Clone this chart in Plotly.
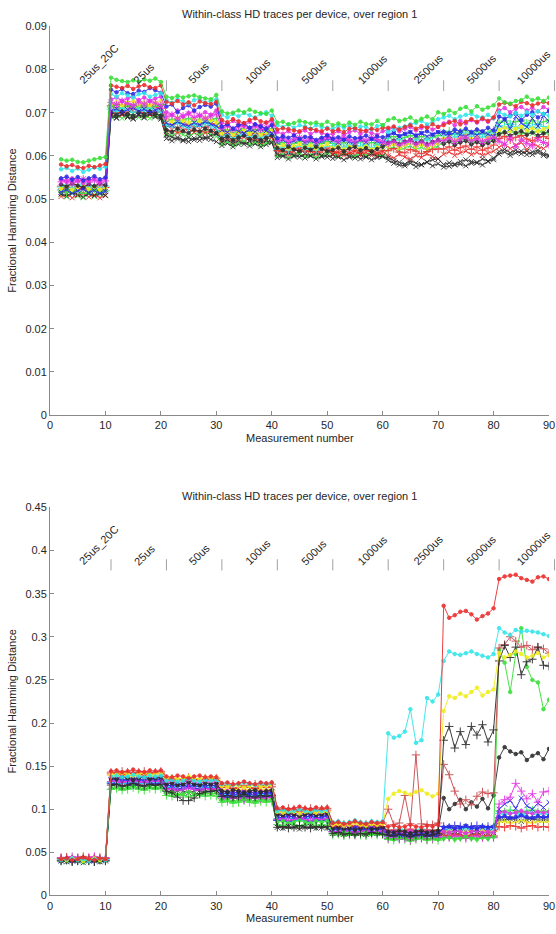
import plotly.graph_objects as go

# Measurement numbers (measurement 1 is the reference, so traces start at 2)
measurements = list(range(2, 91))

# Setting labels for each block of ten measurements, and where they sit
setting_labels = ["25us_20C", "25us", "50us", "100us", "500us",
                  "1000us", "2500us", "5000us", "10000us"]
label_x = [8.8, 17.0, 26.8, 37.5, 47.7, 58.2, 68.2, 77.8, 87.2]
block_edges = [11, 21, 31, 41, 51, 61, 71, 81, 91]

TITLE = "Within-class HD traces per device, over region 1"

# ---------------- Panel 1: HD values in units of 1e-4 ----------------
p1_green_dot = [592, 589, 591, 586, 585, 589, 592, 595, 597,
                781, 776, 773, 771, 775, 772, 777, 774, 779, 771,
                737, 734, 739, 735, 738, 740, 736, 733, 731, 741,
                703, 698, 700, 705, 701, 707, 702, 699, 697, 705,
                677, 679, 673, 676, 681, 678, 675, 677, 672, 679,
                671, 675, 670, 677, 672, 679, 674, 673, 681, 671,
                683, 687, 681, 684, 689, 680, 686, 691, 685, 701,
                697, 705, 699, 709, 713, 703, 715, 707, 712, 717,
                733, 724, 721, 727, 729, 737, 729, 733, 727, 735]
p1_red_dot = [580, 576, 579, 574, 572, 577, 574, 578, 581,
              763, 760, 757, 762, 755, 761, 764, 759, 757, 763,
              725, 721, 727, 719, 724, 717, 726, 722, 720, 725,
              683, 678, 685, 680, 676, 683, 687, 680, 677, 685,
              661, 664, 662, 659, 657, 665, 662, 660, 657, 663,
              657, 661, 655, 663, 664, 659, 658, 663, 660, 665,
              665, 668, 661, 667, 671, 663, 669, 665, 673, 667,
              671, 677, 681, 673, 679, 685, 679, 687, 681, 689,
              719, 723, 720, 715, 725, 722, 717, 721, 725, 722]
p1_blue_dot = [548, 552, 545, 551, 543, 548, 553, 546, 550,
               753, 747, 755, 745, 743, 751, 748, 757, 752, 746,
               714, 719, 701, 711, 717, 705, 713, 718, 714, 721,
               668, 673, 663, 671, 675, 665, 673, 668, 663, 671,
               641, 645, 642, 647, 639, 644, 643, 637, 642, 647,
               640, 643, 637, 645, 641, 642, 647, 639, 645, 643,
               648, 653, 646, 651, 655, 647, 653, 657, 649, 655,
               656, 653, 661, 657, 663, 655, 661, 657, 665, 659,
               691, 685, 693, 699, 683, 695, 701, 689, 697, 703]
p1_cyan_dot = [569, 572, 565, 571, 563, 568, 573, 570, 575,
               743, 737, 745, 740, 735, 743, 745, 737, 741, 745,
               729, 723, 731, 726, 721, 729, 733, 723, 727, 731,
               695, 689, 697, 692, 699, 694, 689, 697, 701, 693,
               671, 667, 673, 665, 671, 668, 663, 671, 667, 665,
               663, 669, 665, 671, 663, 668, 667, 661, 669, 671,
               655, 661, 665, 668, 673, 676, 681, 673, 679, 685,
               689, 693, 685, 691, 695, 697, 691, 689, 695, 687,
               701, 695, 691, 699, 693, 701, 695, 703, 697, 693]
p1_magenta_dot = [545, 539, 548, 542, 537, 544, 547, 540, 549,
                  731, 735, 727, 733, 737, 729, 735, 727, 733, 737,
                  701, 695, 705, 691, 699, 703, 693, 701, 695, 705,
                  677, 671, 681, 673, 669, 679, 673, 671, 677, 681,
                  655, 651, 657, 649, 655, 659, 651, 657, 653, 649,
                  651, 657, 649, 655, 659, 651, 657, 653, 649, 657,
                  661, 665, 657, 663, 667, 659, 665, 669, 661, 667,
                  675, 679, 671, 681, 675, 683, 677, 685, 679, 687,
                  705, 711, 701, 709, 713, 705, 711, 703, 713, 707]
p1_green_plus = [521, 515, 523, 517, 513, 521, 523, 515, 519,
                 713, 717, 709, 715, 719, 711, 717, 709, 715, 719,
                 681, 685, 677, 683, 687, 679, 685, 677, 683, 687,
                 657, 661, 653, 659, 663, 655, 661, 653, 659, 663,
                 627, 631, 623, 629, 633, 625, 631, 623, 629, 633,
                 629, 625, 631, 623, 629, 633, 625, 631, 627, 623,
                 641, 645, 637, 643, 647, 639, 645, 637, 643, 647,
                 653, 657, 649, 655, 659, 651, 657, 649, 655, 659,
                 677, 681, 673, 679, 683, 675, 681, 673, 679, 683]
p1_red_plus = [530, 526, 533, 528, 523, 531, 526, 532, 527,
               716, 711, 719, 714, 709, 717, 712, 718, 713, 710,
               668, 673, 665, 671, 674, 667, 672, 666, 670, 675,
               648, 653, 645, 651, 655, 647, 652, 646, 650, 655,
               612, 617, 609, 614, 619, 611, 616, 610, 615, 618,
               610, 607, 615, 605, 613, 607, 614, 610, 605, 612,
               612, 617, 609, 607, 615, 611, 605, 610, 615, 616,
               616, 621, 613, 619, 623, 615, 621, 613, 618, 625,
               640, 645, 637, 643, 647, 639, 635, 642, 645, 640]
p1_black_x = [512, 507, 515, 510, 505, 513, 508, 514, 509,
              694, 689, 697, 691, 687, 695, 690, 697, 692, 688,
              648, 643, 639, 635, 642, 637, 644, 640, 647, 651,
              632, 637, 629, 635, 627, 633, 636, 629, 635, 631,
              604, 599, 607, 601, 597, 605, 600, 607, 601, 597,
              602, 597, 605, 599, 595, 603, 597, 605, 599, 598,
              596, 589, 585, 581, 588, 583, 579, 586, 591, 593,
              580, 584, 581, 587, 591, 587, 584, 593, 588, 595,
              604, 609, 601, 607, 611, 603, 609, 613, 605, 601]
p1_yellow_dot = [524, 529, 521, 527, 531, 523, 528, 522, 527,
                 720, 725, 717, 723, 727, 719, 724, 717, 722, 727,
                 684, 679, 687, 681, 677, 685, 680, 687, 682, 677,
                 652, 657, 649, 655, 659, 651, 656, 649, 654, 659,
                 620, 625, 617, 623, 627, 619, 624, 617, 622, 627,
                 618, 623, 615, 621, 625, 617, 622, 615, 620, 625,
                 622, 627, 619, 625, 629, 621, 626, 619, 624, 629,
                 640, 645, 637, 643, 647, 639, 644, 637, 642, 647,
                 660, 665, 657, 663, 667, 659, 664, 657, 662, 667]
p1_black_dot = [534, 529, 537, 531, 527, 535, 530, 537, 532,
                700, 695, 703, 697, 693, 701, 696, 703, 698, 693,
                660, 655, 663, 657, 653, 661, 656, 663, 658, 653,
                640, 645, 637, 643, 647, 639, 644, 637, 642, 647,
                618, 613, 621, 615, 611, 619, 614, 621, 616, 611,
                614, 619, 611, 617, 621, 613, 618, 611, 616, 621,
                630, 635, 627, 633, 637, 629, 634, 627, 632, 637,
                628, 633, 625, 631, 635, 627, 632, 625, 630, 635,
                650, 655, 647, 653, 657, 649, 654, 647, 652, 657]
p1_cyan_plus = [528, 533, 525, 531, 535, 527, 532, 525, 530,
                708, 703, 711, 705, 701, 709, 704, 711, 706, 701,
                672, 667, 675, 669, 665, 673, 668, 675, 670, 665,
                644, 649, 641, 647, 651, 643, 648, 641, 646, 651,
                616, 621, 613, 619, 623, 615, 620, 613, 618, 623,
                622, 627, 619, 625, 629, 621, 626, 619, 624, 629,
                636, 631, 639, 633, 629, 637, 632, 639, 634, 629,
                646, 651, 643, 649, 653, 645, 650, 643, 648, 653,
                670, 665, 673, 667, 663, 671, 666, 673, 668, 663]
p1_blue_x = [516, 521, 513, 519, 523, 515, 520, 513, 518,
             704, 709, 701, 707, 711, 703, 708, 701, 706, 711,
             676, 671, 679, 673, 669, 677, 672, 679, 674, 669,
             660, 655, 663, 657, 653, 661, 656, 663, 658, 653,
             632, 637, 629, 635, 639, 631, 636, 629, 634, 639,
             636, 631, 639, 633, 629, 637, 632, 639, 634, 629,
             648, 653, 645, 651, 655, 647, 652, 645, 650, 655,
             652, 647, 655, 649, 645, 653, 648, 655, 650, 645,
             672, 685, 663, 691, 676, 667, 687, 669, 693, 680]
p1_red_x = [506, 511, 503, 509, 513, 505, 510, 503, 508,
            698, 703, 695, 701, 705, 697, 702, 695, 700, 705,
            656, 661, 653, 659, 663, 655, 660, 653, 658, 663,
            636, 641, 633, 639, 643, 635, 640, 633, 638, 643,
            608, 613, 605, 611, 615, 607, 612, 605, 610, 615,
            604, 609, 601, 607, 611, 603, 608, 601, 606, 611,
            600, 595, 604, 597, 593, 601, 596, 605, 598, 593,
            604, 609, 601, 607, 611, 603, 608, 601, 606, 611,
            620, 627, 617, 625, 631, 615, 629, 622, 617, 627]
p1_magenta_star = [540, 545, 537, 543, 547, 539, 544, 537, 542,
                   724, 719, 727, 721, 717, 725, 720, 727, 722, 717,
                   690, 695, 687, 693, 697, 689, 694, 687, 692, 697,
                   664, 669, 661, 667, 671, 663, 668, 661, 666, 671,
                   636, 641, 633, 639, 643, 635, 640, 633, 638, 643,
                   640, 635, 643, 637, 633, 641, 636, 643, 638, 633,
                   628, 633, 625, 631, 635, 627, 632, 625, 630, 635,
                   636, 641, 633, 639, 643, 635, 640, 633, 638, 643,
                   634, 627, 641, 621, 637, 629, 623, 639, 631, 625]
p1_green_x = [510, 505, 513, 507, 503, 511, 506, 513, 508,
              690, 695, 687, 693, 697, 689, 694, 687, 692, 697,
              652, 647, 655, 649, 645, 653, 648, 655, 650, 645,
              628, 633, 625, 631, 635, 627, 632, 625, 630, 635,
              600, 605, 597, 603, 607, 599, 604, 597, 602, 607,
              606, 601, 609, 603, 599, 607, 602, 609, 604, 599,
              616, 621, 613, 619, 623, 615, 620, 613, 618, 623,
              632, 637, 629, 635, 639, 631, 636, 629, 634, 639,
              656, 651, 659, 653, 649, 657, 652, 659, 654, 649]
p1_grey_x = [520, 525, 517, 523, 527, 519, 524, 517, 522,
             692, 687, 695, 689, 685, 693, 688, 695, 690, 685,
             640, 635, 643, 637, 633, 641, 636, 643, 638, 633,
             624, 629, 621, 627, 631, 623, 628, 621, 626, 631,
             596, 601, 593, 599, 603, 595, 600, 593, 598, 603,
             594, 599, 591, 597, 601, 593, 598, 591, 596, 601,
             590, 583, 579, 577, 583, 575, 580, 585, 577, 582,
             574, 576, 579, 581, 577, 583, 585, 579, 587, 591,
             610, 615, 607, 613, 605, 611, 603, 608, 601, 599]

# ---------------- Panel 2: HD values in units of 1e-3 ----------------
p2_red_dot = [42, 43, 41, 42, 44, 42, 41, 43, 42,
              144, 145, 143, 144, 146, 144, 143, 145, 144, 145,
              138, 137, 139, 138, 136, 138, 139, 137, 138, 137,
              130, 131, 129, 130, 132, 130, 129, 131, 130, 131,
              101, 102, 100, 101, 103, 101, 100, 102, 101, 102,
              84, 85, 83, 84, 86, 84, 83, 85, 84, 85,
              80, 81, 79, 80, 82, 80, 79, 81, 80, 82,
              336, 322, 325, 329, 330, 326, 320, 324, 327, 333,
              367, 370, 371, 372, 368, 366, 364, 369, 370, 367]
p2_cyan_dot = [41, 42, 43, 41, 42, 40, 42, 43, 41,
               138, 139, 137, 138, 140, 138, 137, 139, 138, 139,
               133, 134, 132, 133, 135, 133, 132, 134, 133, 134,
               129, 130, 128, 129, 131, 129, 128, 130, 129, 130,
               98, 99, 97, 98, 100, 98, 97, 99, 98, 99,
               85, 86, 84, 85, 87, 85, 84, 86, 85, 86,
               188, 183, 185, 190, 216, 177, 180, 229, 225, 233,
               272, 283, 280, 279, 281, 283, 280, 278, 276, 280,
               310, 305, 302, 308, 306, 307, 306, 305, 303, 301]
p2_yellow_dot = [42, 41, 43, 42, 40, 42, 43, 41, 42,
                 141, 140, 142, 141, 139, 141, 142, 140, 141, 142,
                 136, 137, 135, 136, 138, 136, 135, 137, 136, 137,
                 127, 126, 128, 127, 125, 127, 128, 126, 127, 128,
                 97, 96, 98, 97, 95, 97, 98, 96, 97, 98,
                 82, 83, 81, 82, 84, 82, 81, 83, 82, 83,
                 112, 118, 121, 119, 117, 120, 122, 118, 115, 118,
                 214, 231, 229, 234, 231, 236, 241, 232, 236, 239,
                 281, 276, 279, 283, 280, 276, 278, 281, 276, 279]
p2_black_plus = [40, 41, 39, 40, 42, 40, 39, 41, 40,
                 128, 129, 127, 128, 130, 128, 127, 129, 128, 129,
                 121, 119, 114, 110, 110, 113, 118, 120, 121, 122,
                 115, 116, 114, 115, 117, 115, 114, 116, 115, 116,
                 79, 80, 78, 79, 81, 79, 78, 80, 79, 80,
                 72, 73, 71, 72, 70, 72, 71, 73, 72, 71,
                 70, 69, 71, 70, 68, 70, 71, 69, 70, 72,
                 180, 196, 171, 190, 175, 196, 186, 198, 178, 192,
                 272, 290, 276, 288, 256, 271, 274, 288, 267, 266]
p2_darkred_plus = [43, 44, 42, 43, 45, 43, 42, 44, 43,
                   143, 142, 144, 143, 141, 143, 144, 142, 143, 144,
                   135, 136, 134, 135, 137, 135, 134, 136, 135, 136,
                   128, 127, 129, 128, 126, 128, 129, 127, 128, 129,
                   100, 99, 101, 100, 98, 100, 101, 99, 100, 101,
                   83, 84, 82, 83, 85, 83, 82, 84, 83, 84,
                   100, 82, 84, 116, 83, 163, 83, 82, 82, 84,
                   152, 140, 121, 106, 111, 105, 115, 120, 118, 119,
                   287, 291, 300, 295, 288, 290, 285, 288, 286, 281]
p2_black_dot = [41, 40, 42, 41, 39, 41, 42, 40, 41,
                136, 135, 137, 136, 134, 136, 137, 135, 136, 137,
                129, 130, 128, 129, 131, 129, 128, 130, 129, 130,
                121, 120, 122, 121, 119, 121, 122, 120, 121, 122,
                94, 93, 95, 94, 92, 94, 95, 93, 94, 95,
                78, 79, 77, 78, 76, 78, 79, 77, 78, 79,
                74, 73, 75, 74, 72, 74, 75, 73, 74, 75,
                113, 100, 106, 111, 100, 108, 103, 112, 101, 116,
                160, 172, 167, 164, 166, 157, 162, 165, 158, 170]
p2_magenta_plus = [44, 43, 45, 44, 42, 44, 45, 43, 44,
                   132, 133, 131, 132, 134, 132, 131, 133, 132, 133,
                   123, 124, 122, 123, 125, 123, 122, 124, 123, 124,
                   113, 112, 114, 113, 111, 113, 114, 112, 113, 114,
                   88, 89, 87, 88, 90, 88, 87, 89, 88, 89,
                   74, 73, 75, 74, 72, 74, 75, 73, 74, 75,
                   66, 67, 65, 66, 64, 66, 67, 65, 66, 67,
                   68, 67, 69, 68, 66, 68, 69, 67, 68, 67,
                   106, 111, 114, 130, 121, 112, 118, 108, 120, 121]
p2_blue_x = [41, 42, 40, 41, 43, 41, 40, 42, 41,
             134, 133, 135, 134, 132, 134, 135, 133, 134, 133,
             127, 128, 126, 127, 129, 127, 126, 128, 127, 128,
             119, 118, 120, 119, 117, 119, 120, 118, 119, 120,
             92, 93, 91, 92, 94, 92, 91, 93, 92, 93,
             77, 76, 78, 77, 75, 77, 78, 76, 77, 76,
             72, 73, 71, 72, 70, 72, 73, 71, 72, 73,
             78, 79, 77, 78, 80, 78, 77, 79, 78, 79,
             100, 106, 110, 101, 113, 104, 100, 107, 102, 108]
p2_green_dot = [41, 40, 42, 41, 39, 41, 42, 40, 41,
                125, 126, 124, 125, 127, 125, 124, 126, 125, 126,
                118, 119, 117, 118, 120, 118, 117, 119, 118, 119,
                110, 111, 109, 110, 112, 110, 109, 111, 110, 111,
                85, 86, 84, 85, 87, 85, 84, 86, 85, 86,
                72, 71, 73, 72, 70, 72, 73, 71, 72, 71,
                66, 65, 67, 66, 64, 66, 67, 65, 66, 65,
                66, 67, 65, 66, 68, 66, 65, 67, 66, 68,
                285, 270, 236, 280, 310, 265, 250, 247, 216, 227]
p2_blue_dot = [42, 43, 41, 42, 40, 42, 43, 41, 42,
               134, 135, 133, 134, 136, 134, 133, 135, 134, 135,
               128, 127, 129, 128, 126, 128, 129, 127, 128, 127,
               118, 119, 117, 118, 120, 118, 117, 119, 118, 119,
               91, 90, 92, 91, 89, 91, 92, 90, 91, 92,
               77, 78, 76, 77, 79, 77, 76, 78, 77, 78,
               70, 71, 69, 70, 72, 70, 69, 71, 70, 71,
               79, 80, 78, 79, 81, 79, 78, 80, 79, 80,
               91, 92, 90, 91, 93, 91, 90, 92, 91, 92]
p2_magenta_dot = [43, 42, 44, 43, 41, 43, 44, 42, 43,
                  137, 136, 138, 137, 135, 137, 138, 136, 137, 138,
                  131, 132, 130, 131, 133, 131, 130, 132, 131, 132,
                  120, 121, 119, 120, 122, 120, 119, 121, 120, 121,
                  94, 95, 93, 94, 96, 94, 93, 95, 94, 95,
                  79, 78, 80, 79, 77, 79, 80, 78, 79, 78,
                  73, 74, 72, 73, 75, 73, 72, 74, 73, 74,
                  74, 73, 75, 74, 72, 74, 75, 73, 74, 73,
                  96, 97, 95, 96, 98, 96, 95, 97, 96, 97]
p2_red_plus = [43, 44, 42, 43, 41, 43, 44, 42, 43,
               141, 142, 140, 141, 143, 141, 140, 142, 141, 142,
               134, 133, 135, 134, 132, 134, 135, 133, 134, 133,
               125, 126, 124, 125, 127, 125, 124, 126, 125, 126,
               98, 99, 97, 98, 100, 98, 97, 99, 98, 99,
               81, 80, 82, 81, 79, 81, 82, 80, 81, 80,
               75, 76, 74, 75, 77, 75, 74, 76, 75, 76,
               70, 69, 71, 70, 68, 70, 71, 69, 70, 69,
               80, 79, 81, 80, 78, 80, 81, 79, 80, 79]
p2_green_plus = [40, 41, 39, 40, 42, 40, 39, 41, 40,
                 123, 124, 122, 123, 125, 123, 122, 124, 123, 124,
                 116, 115, 117, 116, 114, 116, 117, 115, 116, 115,
                 108, 109, 107, 108, 110, 108, 107, 109, 108, 109,
                 82, 81, 83, 82, 80, 82, 83, 81, 82, 81,
                 70, 71, 69, 70, 72, 70, 69, 71, 70, 71,
                 65, 64, 66, 65, 63, 65, 66, 64, 65, 64,
                 67, 68, 66, 67, 69, 67, 66, 68, 67, 68,
                 98, 97, 99, 98, 96, 98, 99, 97, 98, 97]
p2_cyan_plus = [42, 41, 43, 42, 40, 42, 43, 41, 42,
                131, 132, 130, 131, 133, 131, 130, 132, 131, 132,
                126, 125, 127, 126, 124, 126, 127, 125, 126, 125,
                116, 117, 115, 116, 118, 116, 115, 117, 116, 117,
                89, 88, 90, 89, 87, 89, 90, 88, 89, 88,
                76, 77, 75, 76, 78, 76, 75, 77, 76, 77,
                76, 75, 77, 76, 74, 76, 77, 75, 76, 75,
                76, 77, 75, 76, 78, 76, 75, 77, 76, 77,
                95, 94, 96, 95, 93, 95, 96, 94, 95, 94]
p2_black_x = [40, 39, 41, 40, 38, 40, 41, 39, 40,
              127, 128, 126, 127, 129, 127, 126, 128, 127, 128,
              121, 120, 122, 121, 119, 121, 122, 120, 121, 120,
              113, 114, 112, 113, 115, 113, 112, 114, 113, 114,
              79, 78, 80, 79, 77, 79, 80, 78, 79, 78,
              72, 73, 71, 72, 74, 72, 71, 73, 72, 73,
              69, 68, 70, 69, 67, 69, 70, 68, 69, 68,
              72, 73, 71, 72, 74, 72, 71, 73, 72, 73,
              88, 87, 89, 88, 86, 88, 89, 87, 88, 87]
p2_yellow_plus = [43, 44, 42, 43, 45, 43, 42, 44, 43,
                  139, 138, 140, 139, 137, 139, 140, 138, 139, 138,
                  133, 134, 132, 133, 135, 133, 132, 134, 133, 134,
                  123, 122, 124, 123, 121, 123, 124, 122, 123, 122,
                  96, 97, 95, 96, 98, 96, 95, 97, 96, 97,
                  80, 79, 81, 80, 78, 80, 81, 79, 80, 79,
                  71, 72, 70, 71, 73, 71, 70, 72, 71, 72,
                  75, 74, 76, 75, 73, 75, 76, 74, 75, 74,
                  85, 86, 84, 85, 87, 85, 84, 86, 85, 86]
p2_blue_plus = [41, 42, 40, 41, 43, 41, 40, 42, 41,
                130, 129, 131, 130, 128, 130, 131, 129, 130, 129,
                124, 125, 123, 124, 126, 124, 123, 125, 124, 125,
                115, 114, 116, 115, 113, 115, 116, 114, 115, 114,
                87, 88, 86, 87, 89, 87, 86, 88, 87, 88,
                74, 73, 75, 74, 72, 74, 75, 73, 74, 73,
                68, 69, 67, 68, 70, 68, 67, 69, 68, 69,
                80, 79, 81, 80, 78, 80, 81, 79, 80, 79,
                90, 91, 89, 90, 92, 90, 89, 91, 90, 91]

# MATLAB-style line colours
RED, BLUE, GREEN = "#ec2b2b", "#2b2be6", "#35e035"
CYAN, MAGENTA, YELLOW = "#2ee6ea", "#e431e4", "#eeee18"
BLACK, DARKRED = "#2a2a2a", "#c9474b"

# (values, colour, marker) per device, drawing order bottom to top
panel1 = [
    (p1_grey_x, BLACK, "x"), (p1_green_x, GREEN, "x"), (p1_red_x, RED, "x"),
    (p1_black_x, BLACK, "x"), (p1_red_plus, RED, "+"), (p1_green_plus, GREEN, "+"),
    (p1_cyan_plus, CYAN, "+"), (p1_yellow_dot, YELLOW, "o"), (p1_black_dot, BLACK, "o"),
    (p1_blue_x, BLUE, "x"), (p1_magenta_star, MAGENTA, "*"), (p1_magenta_dot, MAGENTA, "o"),
    (p1_blue_dot, BLUE, "o"), (p1_cyan_dot, CYAN, "o"), (p1_red_dot, RED, "o"),
    (p1_green_dot, GREEN, "o"),
]
panel2 = [
    (p2_green_plus, GREEN, "+"), (p2_black_x, BLACK, "x"), (p2_blue_plus, BLUE, "+"),
    (p2_cyan_plus, CYAN, "+"), (p2_yellow_plus, YELLOW, "+"), (p2_red_plus, RED, "+"),
    (p2_magenta_dot, MAGENTA, "o"), (p2_blue_dot, BLUE, "o"), (p2_blue_x, BLUE, "x"),
    (p2_magenta_plus, MAGENTA, "+"), (p2_black_dot, BLACK, "o"), (p2_green_dot, GREEN, "o"),
    (p2_darkred_plus, DARKRED, "+"), (p2_black_plus, BLACK, "+"), (p2_yellow_dot, YELLOW, "o"),
    (p2_cyan_dot, CYAN, "o"), (p2_red_dot, RED, "o"),
]

MARKERS = {
    "o": dict(symbol="circle", size=3.5),
    "+": dict(symbol="cross-thin", size=6),
    "x": dict(symbol="x-thin", size=5),
    "*": dict(symbol="asterisk", size=6),
}

fig = go.Figure()


def add_panel(series, scale, xa, ya):
    for values, colour, mk in series:
        m = MARKERS[mk]
        fig.add_trace(go.Scatter(
            x=measurements, y=[v * scale for v in values],
            xaxis=xa, yaxis=ya, mode="lines+markers",
            line=dict(color=colour, width=1),
            marker=dict(symbol=m["symbol"], size=m["size"], color=colour,
                        line=dict(color=colour, width=1)),
            opacity=0.9, showlegend=False, hoverinfo="skip",
        ))


add_panel(panel1, 1e-4, "x", "y")
add_panel(panel2, 1e-3, "x2", "y2")

FONT = "Liberation Sans, Arial, sans-serif"
AXIS_GREY = "#8a8a8a"
TEXT = "#262626"

# plot areas in pixels of the 556x934 page
H = 934.0
top_dom = [1 - 414.5 / H, 1 - 20.5 / H]
bot_dom = [1 - 901 / H, 1 - 508 / H]

common_x = dict(range=[0, 90], tick0=0, dtick=10, ticks="inside", ticklen=4,
                tickcolor=AXIS_GREY, showline=True, linecolor=AXIS_GREY,
                linewidth=1, showgrid=False, zeroline=False,
                tickfont=dict(family=FONT, size=11, color=TEXT), domain=[0, 1])
common_y = dict(ticks="inside", ticklen=4, tickcolor=AXIS_GREY, showline=True,
                linecolor=AXIS_GREY, linewidth=1, showgrid=False, zeroline=False,
                tickfont=dict(family=FONT, size=11, color=TEXT))

fig.update_layout(
    width=556, height=934, margin=dict(l=50, r=7, t=0, b=0),
    paper_bgcolor="white", plot_bgcolor="white",
    xaxis=dict(common_x, anchor="y"),
    yaxis=dict(common_y, range=[0, 0.09], dtick=0.01, domain=top_dom, anchor="x"),
    xaxis2=dict(common_x, anchor="y2"),
    yaxis2=dict(common_y, range=[0, 0.45], dtick=0.05, domain=bot_dom, anchor="x2"),
)

annotations = []
shapes = []
for xa, ya, dom, lab_y, sep_lo, sep_hi, first_edge in [
        ("x", "y", top_dom, 0.0758, 0.0750, 0.0775, 1),
        ("x2", "y2", bot_dom, 0.379, 0.377, 0.390, 0)]:
    # titles
    annotations.append(dict(text=TITLE, xref="paper", yref="paper", x=0.5,
                            y=dom[1] + 12 / H, xanchor="center", yanchor="middle",
                            showarrow=False, font=dict(family=FONT, size=11, color=TEXT)))
    annotations.append(dict(text="Measurement number", xref="paper", yref="paper",
                            x=0.5, y=dom[0] - 23 / H, xanchor="center", yanchor="middle",
                            showarrow=False, font=dict(family=FONT, size=11, color=TEXT)))
    annotations.append(dict(text="Fractional Hamming Distance", xref="paper",
                            yref="paper", x=-38 / 499, y=(dom[0] + dom[1]) / 2,
                            xanchor="center", yanchor="middle", textangle=-90,
                            showarrow=False, font=dict(family=FONT, size=11, color=TEXT)))
    # setting labels along the top of each panel
    for lbl, lx in zip(setting_labels, label_x):
        annotations.append(dict(text=lbl, xref=xa, yref=ya, x=lx, y=lab_y,
                                xanchor="center", yanchor="bottom", textangle=-45,
                                showarrow=False, borderpad=0,
                                font=dict(family=FONT, size=11, color=TEXT)))
    # short markers between settings
    for edge in block_edges[first_edge:]:
        px = edge / 90.0
        shapes.append(dict(type="line", xref="paper", yref=ya, x0=px, x1=px,
                           y0=sep_lo, y1=sep_hi,
                           line=dict(color="#a0a0a0", width=1)))

fig.update_layout(annotations=annotations, shapes=shapes)
fig.write_html("out.html")
